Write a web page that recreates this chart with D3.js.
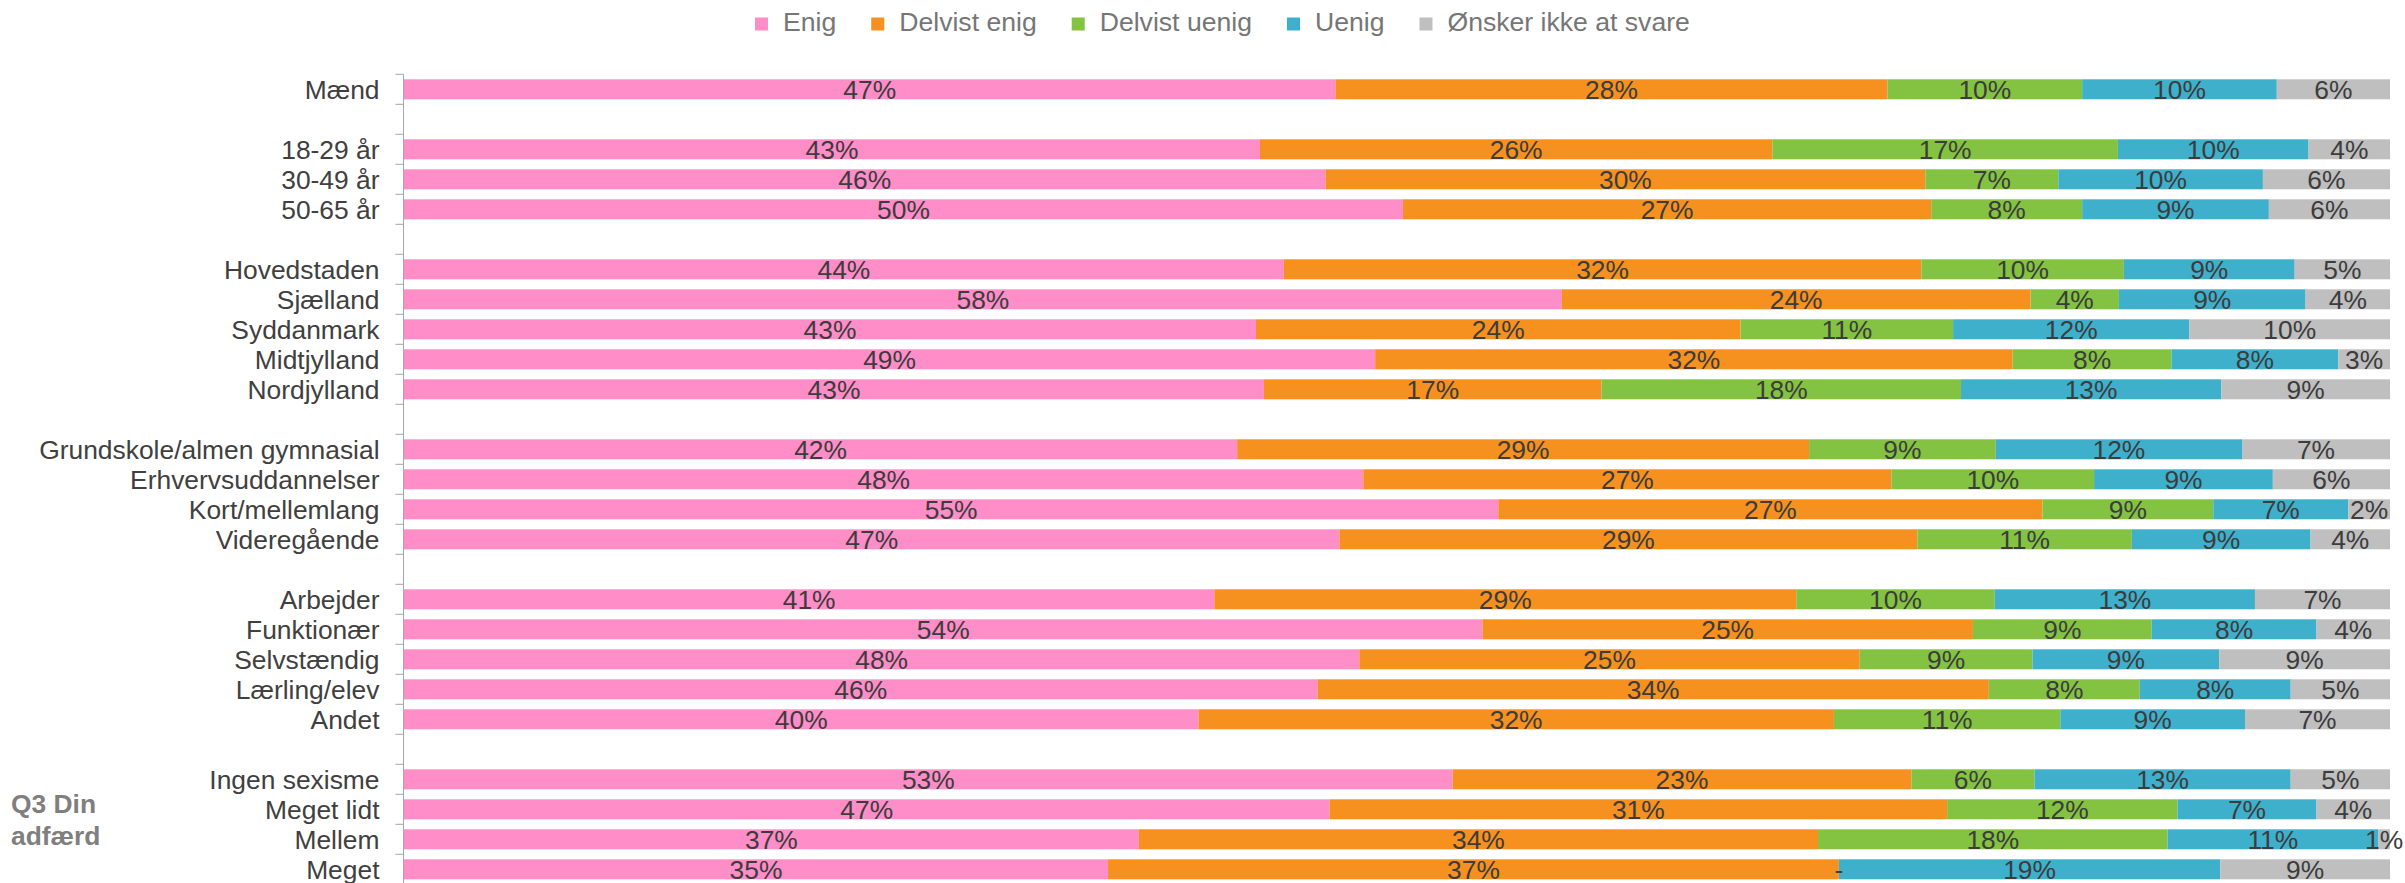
<!DOCTYPE html>
<meta charset="utf-8">
<title>Q3 Din adfærd</title>
<style>

body {
  margin: 0;
  background: #fff;
  font-family: "Liberation Sans", Arial, sans-serif;
}

.axis path,
.axis line {
  fill: none;
}

.axis text {
  fill: #404040;
  font-size: 26.4px;
}

.label {
  fill: #3c3c3c;
  font-size: 26.4px;
}

.legend text {
  fill: #767676;
  font-size: 26.6px;
}

.group-title {
  fill: #7f7f7f;
  font-size: 26.4px;
  font-weight: bold;
}

</style>
<body>
<script src="https://d3js.org/d3.v7.min.js"></script>
<script>

// rows, "" = spacer between groups
var categories = ["Mænd", "", "18-29 år", "30-49 år", "50-65 år", "",
  "Hovedstaden", "Sjælland", "Syddanmark", "Midtjylland", "Nordjylland", "",
  "Grundskole/almen gymnasial", "Erhvervsuddannelser", "Kort/mellemlang", "Videregående", "",
  "Arbejder", "Funktionær", "Selvstændig", "Lærling/elev", "Andet", "",
  "Ingen sexisme", "Meget lidt", "Mellem", "Meget"];

var seriesNames = ["Enig", "Delvist enig", "Delvist uenig", "Uenig", "Ønsker ikke at svare"];

// shares in percent
var enig        = [46.9, null, 43.1, 46.4, 50.3, null, 44.3, 58.3, 42.9, 48.9, 43.3, null, 41.95, 48.3, 55.1, 47.1, null, 40.8, 54.3, 48.1, 46.0, 40.0, null, 52.8, 46.6, 37.0, 35.45];
var delvistEnig = [27.8, null, 25.8, 30.2, 26.6, null, 32.1, 23.6, 24.4, 32.1, 17.0, null, 28.8, 26.6, 27.4, 29.1, null, 29.3, 24.7, 25.2, 33.8, 32.0, null, 23.1, 31.1, 34.2, 36.8];
var delvistUenig = [9.8, null, 17.4, 6.7, 7.6, null, 10.2, 4.45, 10.7, 8.0, 18.1, null, 9.4, 10.2, 8.6, 10.8, null, 10.0, 9.0, 8.7, 7.6, 11.4, null, 6.2, 11.6, 17.6, 0];
var uenig       = [9.8, null, 9.6, 10.3, 9.4, null, 8.6, 9.4, 11.9, 8.4, 13.1, null, 12.4, 9.0, 6.8, 9.0, null, 13.1, 8.3, 9.4, 7.6, 9.3, null, 12.9, 7.0, 10.6, 19.2];
var ikkeSvare   = [5.7, null, 4.1, 6.4, 6.1, null, 4.8, 4.25, 10.1, 2.6, 8.5, null, 7.45, 5.9, 2.1, 4.0, null, 6.8, 3.7, 8.6, 5.0, 7.3, null, 5.0, 3.7, 0.6, 8.55];

var colors = ["#ff8dc8", "#f6911f", "#83c341", "#3fb0cc", "#bfbfbf"];

var width = 2405,
    height = 883;

var svg = d3.select("body").append("svg")
    .attr("width", width)
    .attr("height", height);

var rows = categories.map(function(c, i) {
  return {
    id: i,
    name: c,
    values: [enig[i], delvistEnig[i], delvistUenig[i], uenig[i], ikkeSvare[i]]
  };
});

var x = d3.scaleLinear()
    .domain([0, 100])
    .range([404, 2390]);

var y = d3.scaleBand()
    .domain(rows.map(function(d) { return d.id; }))
    .range([74.3, 74.3 + categories.length * 30])
    .paddingInner(1 / 3)
    .paddingOuter(1 / 6);

var stack = d3.stack()
    .keys(d3.range(seriesNames.length))
    .value(function(d, k) { return d.values[k] || 0; });

var dataRows = rows.filter(function(d) { return d.name !== ""; });
var layers = stack(dataRows);

// bars
svg.append("g").selectAll("g")
    .data(layers)
  .enter().append("g")
    .attr("fill", function(d) { return colors[d.key]; })
  .selectAll("rect")
    .data(function(d) { return d; })
  .enter().append("rect")
    .attr("x", function(d) { return x(d[0]); })
    .attr("y", function(d) { return y(d.data.id); })
    .attr("width", function(d) { return x(d[1]) - x(d[0]); })
    .attr("height", y.bandwidth());

// data labels
svg.append("g").selectAll("g")
    .data(layers)
  .enter().append("g")
  .selectAll("text")
    .data(function(d) { return d; })
  .enter().append("text")
    .attr("class", "label")
    .attr("x", function(d) { return (x(d[0]) + x(d[1])) / 2; })
    .attr("y", function(d) { return y(d.data.id) + y.bandwidth() / 2 + 9.5; })
    .attr("text-anchor", "middle")
    .text(function(d) {
      var v = d[1] - d[0];
      return v > 0 ? Math.round(v) + "%" : "-";
    });

// category axis
var yAxis = d3.axisLeft(y)
    .tickSize(0)
    .tickPadding(24)
    .tickFormat(function(id) { return categories[id]; });

var axisG = svg.append("g")
    .attr("class", "axis")
    .attr("transform", "translate(403.5,0)")
    .call(yAxis);

axisG.select(".domain").remove();
axisG.selectAll("text").attr("dy", "0.35em");

axisG.append("line")
    .attr("y1", 74.3)
    .attr("y2", height + 10)
    .attr("stroke", "#a6a6a6");

// tick marks sit between categories
var step = y.step();
axisG.selectAll(".sep")
    .data(d3.range(categories.length + 1))
  .enter().append("line")
    .attr("class", "sep")
    .attr("x1", -8)
    .attr("x2", 0)
    .attr("y1", function(i) { return 74.3 + i * step; })
    .attr("y2", function(i) { return 74.3 + i * step; })
    .attr("stroke", "#a6a6a6");

// group title
svg.append("text")
    .attr("class", "group-title")
    .attr("x", 11)
    .attr("y", 813)
    .text("Q3 Din");

svg.append("text")
    .attr("class", "group-title")
    .attr("x", 11)
    .attr("y", 845)
    .text("adfærd");

// legend
var legend = svg.append("g")
    .attr("class", "legend");

var lx = 755;
seriesNames.forEach(function(name, i) {
  legend.append("rect")
      .attr("x", lx)
      .attr("y", 17.5)
      .attr("width", 13)
      .attr("height", 13)
      .attr("fill", colors[i]);
  var t = legend.append("text")
      .attr("x", lx + 28)
      .attr("y", 31)
      .text(name);
  lx += 28 + t.node().getComputedTextLength() + 35;
});

</script>
</body>
